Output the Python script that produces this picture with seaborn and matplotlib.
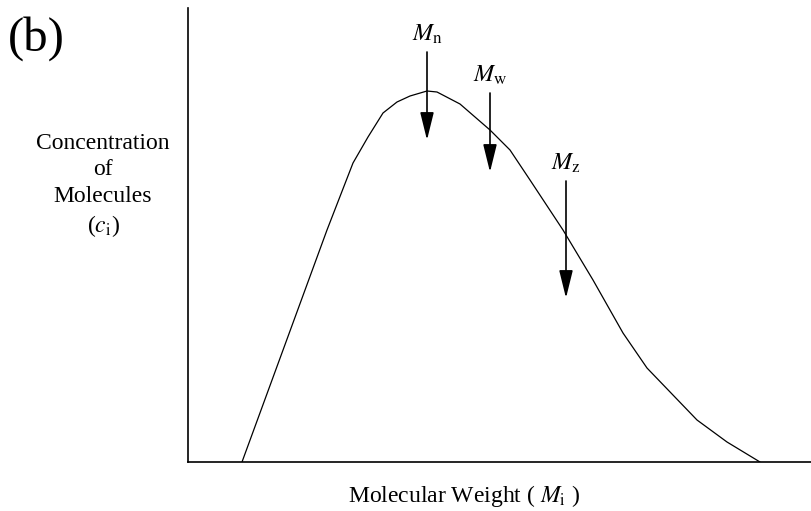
import matplotlib
matplotlib.use("Agg")
import matplotlib.pyplot as plt
import seaborn as sns
import pandas as pd

# Distribution curve (arbitrary units)
mol_weight = [54, 139, 165, 180, 195, 209, 222, 239, 249, 272, 302, 322, 342,
              375, 405, 435, 459, 509, 539, 572]
concentration = [0, 232, 299, 325, 349, 360, 366, 371, 370, 358, 332, 312, 282,
                 232, 182, 129, 94, 42, 20, 0]

# Average markers: label, x position, arrow start y, arrow tip y
avg_labels = [r"$M_\mathrm{n}$", r"$M_\mathrm{w}$", r"$M_\mathrm{z}$"]
avg_x = [239, 302, 378]
arrow_top = [410, 369, 281]
arrow_tip = [322, 290, 164]

sns.set_theme(style="white")
plt.rcParams["font.family"] = ["Liberation Serif", "DejaVu Serif"]
plt.rcParams["mathtext.fontset"] = "stix"
plt.rcParams["text.color"] = "black"

fig = plt.figure(figsize=(8.12, 5.11), dpi=100)
ax = fig.add_axes([188/812, 49/511, 624/812, 454/511])

df = pd.DataFrame({"x": mol_weight, "y": concentration})
sns.lineplot(data=df, x="x", y="y", ax=ax, color="black", linewidth=0.9,
             sort=False, estimator=None)

ax.set_xlim(0, 624)
ax.set_ylim(0, 454)
ax.set_xticks([])
ax.set_yticks([])
ax.set_xlabel("")
ax.set_ylabel("")
sns.despine(ax=ax)
for s in ["left", "bottom"]:
    ax.spines[s].set_color("black")
    ax.spines[s].set_linewidth(1.2)

for lab, x, yt, yp in zip(avg_labels, avg_x, arrow_top, arrow_tip):
    ax.annotate("", xy=(x, yp), xytext=(x, yt),
                arrowprops=dict(arrowstyle="-|>,head_length=1.7,head_width=0.42",
                                mutation_scale=10, color="black", lw=1.2,
                                shrinkA=0, shrinkB=0))
    ax.text(x, yt + 6, lab, ha="center", va="bottom", fontsize=17.5, color="black")

fig.text(8/812, 1 - 39/511, "(b)", fontsize=35, ha="left", va="center", color="black")
fig.text(103/812, 1 - 186/511, "Concentration\nof\nMolecules\n($c_\\mathrm{i}$)",
         fontsize=17, ha="center", va="center", linespacing=1.33, color="black")
fig.text(464/812, 1 - 496/511, "Molecular Weight ( $M_\\mathrm{i}$ )",
         fontsize=17, ha="center", va="center", color="black")

fig.savefig("out.png", dpi=100)
